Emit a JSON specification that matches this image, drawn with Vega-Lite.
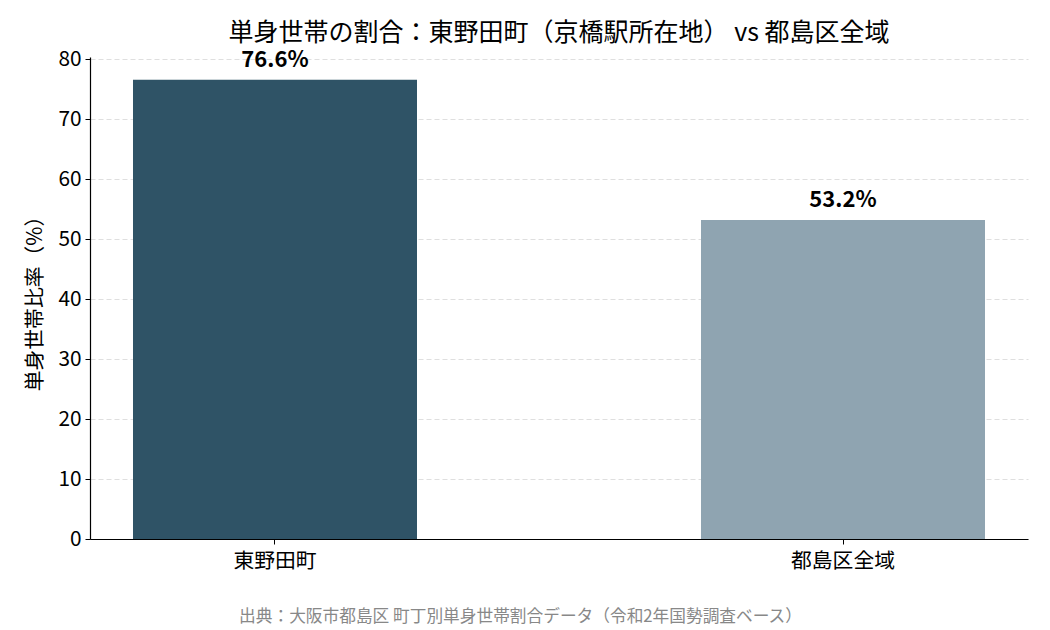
{
  "$schema": "https://vega.github.io/schema/vega-lite/v6.json",
  "width": 938,
  "height": 482,
  "autosize": {"type": "none"},
  "padding": {"left": 90, "top": 57, "right": 22, "bottom": 91},
  "background": "white",
  "config": {
    "font": "Noto Sans CJK JP",
    "view": {"stroke": null},
    "axis": {"zindex": 1}
  },
  "title": {
    "text": "単身世帯の割合：東野田町（京橋駅所在地） vs 都島区全域",
    "fontSize": 25,
    "fontWeight": "normal",
    "color": "black",
    "anchor": "middle",
    "offset": 2
  },
  "data": {
    "values": [
      {"area": "東野田町", "rate": 76.6, "label": "76.6%"},
      {"area": "都島区全域", "rate": 53.2, "label": "53.2%"}
    ]
  },
  "encoding": {
    "x": {
      "field": "area",
      "type": "nominal",
      "sort": null,
      "scale": {"paddingInner": 0.5, "paddingOuter": 0.0757},
      "axis": {
        "labelAngle": 0,
        "labelFontSize": 20.8,
        "labelColor": "black",
        "labelPadding": 7,
        "tickColor": "black",
        "tickSize": 5,
        "domainColor": "black",
        "domainWidth": 1.2,
        "title": "出典：大阪市都島区 町丁別単身世帯割合データ（令和2年国勢調査ベース）",
        "titleFontSize": 16.7,
        "titleFontWeight": "normal",
        "titleColor": "#888888",
        "titleX": 430,
        "titleY": 77,
        "titleAnchor": "middle",
        "titleAlign": "center",
        "titleBaseline": "middle"
      }
    },
    "y": {
      "field": "rate",
      "type": "quantitative",
      "scale": {"domain": [0, 80.4], "nice": false},
      "axis": {
        "values": [0, 10, 20, 30, 40, 50, 60, 70, 80],
        "title": "単身世帯比率（%）",
        "titleFontSize": 20.8,
        "titleFontWeight": "normal",
        "titleColor": "black",
        "titlePadding": 12,
        "labelFontSize": 20.8,
        "labelColor": "black",
        "labelPadding": 4,
        "tickColor": "black",
        "tickSize": 5,
        "domainColor": "black",
        "domainWidth": 1.2,
        "grid": true,
        "gridColor": "#b0b0b0",
        "gridOpacity": 0.4,
        "gridDash": [5, 3],
        "gridWidth": 1
      }
    }
  },
  "layer": [
    {
      "mark": {"type": "bar"},
      "encoding": {
        "color": {
          "field": "area",
          "type": "nominal",
          "scale": {"domain": ["東野田町", "都島区全域"], "range": ["#2F5366", "#8FA4B1"]},
          "legend": null
        }
      }
    },
    {
      "mark": {
        "type": "text",
        "baseline": "bottom",
        "align": "center",
        "dy": -8,
        "fontSize": 22,
        "fontWeight": "bold",
        "color": "black"
      },
      "encoding": {
        "text": {"field": "label", "type": "nominal"}
      }
    }
  ]
}
